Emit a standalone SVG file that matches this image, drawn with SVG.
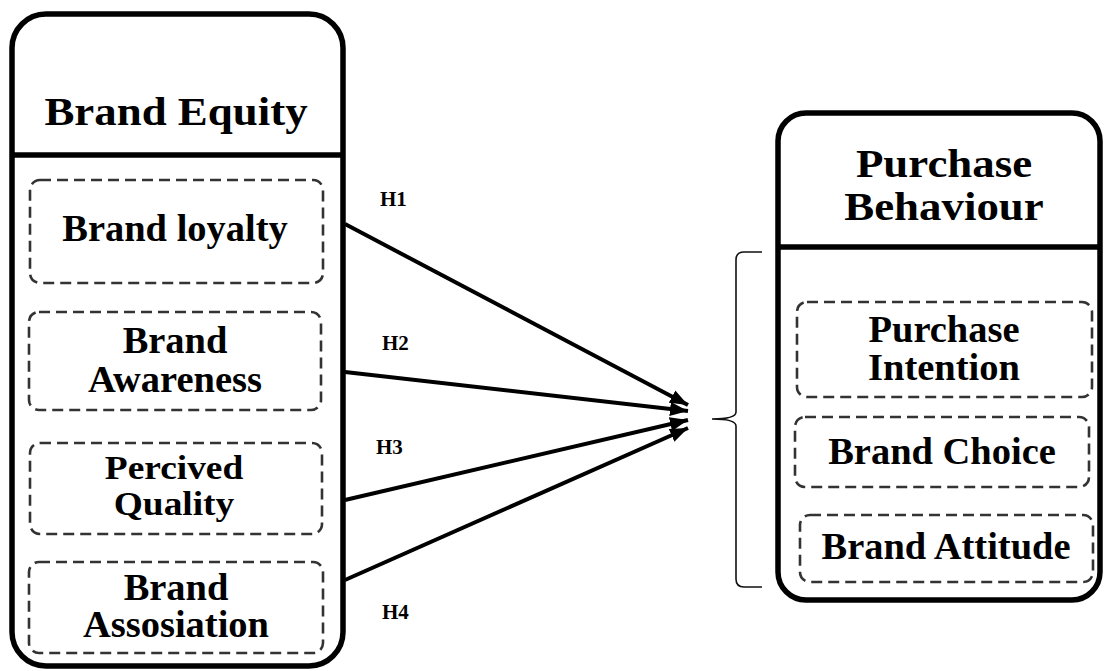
<svg xmlns="http://www.w3.org/2000/svg" width="1106" height="671" viewBox="0 0 1106 671">
  <style>
    .frame { fill: #fff; stroke: #000; stroke-width: 5.5; }
    .divider { stroke: #000; stroke-width: 5.5; }
    .item { fill: none; stroke: #333; stroke-width: 2.6; stroke-dasharray: 11 6; }
    .title { font-family: "Liberation Serif", "Times New Roman", serif; font-weight: bold; font-size: 41px; text-anchor: middle; fill: #000; }
    .label { font-family: "Liberation Serif", "Times New Roman", serif; font-weight: bold; font-size: 37px; text-anchor: middle; fill: #000; }
    .tight { font-size: 34px; }
    .hyp { font-family: "Liberation Serif", "Times New Roman", serif; font-weight: bold; font-size: 21px; fill: #000; }
    .link { stroke: #000; stroke-width: 4; fill: none; marker-end: url(#arrow); }
    .brace { stroke: #111; stroke-width: 1.6; fill: none; }
  </style>
  <defs>
    <marker id="arrow" markerUnits="userSpaceOnUse" markerWidth="20" markerHeight="16" refX="18" refY="7" orient="auto">
      <path d="M0,0 L18,7 L0,14 Z" fill="#000"/>
    </marker>
  </defs>
  <rect width="1106" height="671" fill="#fff"/>

  <!-- Brand Equity container -->
  <g id="brand-equity">
    <rect class="frame" x="12" y="14" width="331" height="652" rx="34"/>
    <line class="divider" x1="12" y1="155" x2="343" y2="155"/>
    <text class="title" transform="translate(176,125) scale(1.095,1)">Brand Equity</text>
  </g>

  <g id="brand-loyalty">
    <rect class="item" x="30" y="180" width="293" height="103" rx="10"/>
    <text class="label" transform="translate(175,241) scale(1.04,1)">Brand loyalty</text>
  </g>
  <g id="brand-awareness">
    <rect class="item" x="29" y="312" width="292" height="98" rx="10"/>
    <text class="label" transform="translate(175,0) scale(1.04,1)"><tspan x="0" y="353">Brand</tspan><tspan x="0" y="392">Awareness</tspan></text>
  </g>
  <g id="perceived-quality">
    <rect class="item" x="30" y="443" width="292" height="91" rx="10"/>
    <text class="label tight" transform="translate(174,0) scale(1.1,1)"><tspan x="0" y="479">Percived</tspan><tspan x="0" y="515">Quality</tspan></text>
  </g>
  <g id="brand-association">
    <rect class="item" x="29" y="562" width="294" height="91" rx="10"/>
    <text class="label" transform="translate(176,0) scale(1.04,1)"><tspan x="0" y="600">Brand</tspan><tspan x="0" y="637">Assosiation</tspan></text>
  </g>

  <!-- Purchase Behaviour container -->
  <g id="purchase-behaviour">
    <rect class="frame" x="778" y="113" width="322" height="487" rx="28"/>
    <line class="divider" x1="778" y1="247" x2="1100" y2="247"/>
    <text class="title" transform="translate(944,0) scale(1.095,1)"><tspan x="0" y="177">Purchase</tspan><tspan x="0" y="220">Behaviour</tspan></text>
  </g>

  <g id="purchase-intention">
    <rect class="item" x="797" y="302" width="295" height="95" rx="10"/>
    <text class="label" transform="translate(944,0) scale(1.04,1)"><tspan x="0" y="342">Purchase</tspan><tspan x="0" y="380">Intention</tspan></text>
  </g>
  <g id="brand-choice">
    <rect class="item" x="795" y="417" width="294" height="70" rx="10"/>
    <text class="label" transform="translate(942,464) scale(1.04,1)">Brand Choice</text>
  </g>
  <g id="brand-attitude">
    <rect class="item" x="800" y="515" width="293" height="67" rx="10"/>
    <text class="label" transform="translate(946,559) scale(1.04,1)">Brand Attitude</text>
  </g>

  <!-- Brace grouping the behaviour items -->
  <g id="brace">
    <path class="brace" d="M762,252 L744,252 Q736,252 736,260 L736,412 Q736,419 712,419 Q736,419 736,426 L736,579 Q736,587 744,587 L762,587"/>
  </g>

  <!-- Hypothesis connectors -->
  <g id="connectors">
    <line class="link" x1="345" y1="224" x2="688" y2="405"/>
    <line class="link" x1="345" y1="372" x2="688" y2="411"/>
    <line class="link" x1="345" y1="500" x2="688" y2="420"/>
    <line class="link" x1="345" y1="580" x2="688" y2="428"/>
    <text class="hyp" x="380" y="206">H1</text>
    <text class="hyp" x="382" y="350">H2</text>
    <text class="hyp" x="376" y="454">H3</text>
    <text class="hyp" x="382" y="619">H4</text>
  </g>
</svg>
